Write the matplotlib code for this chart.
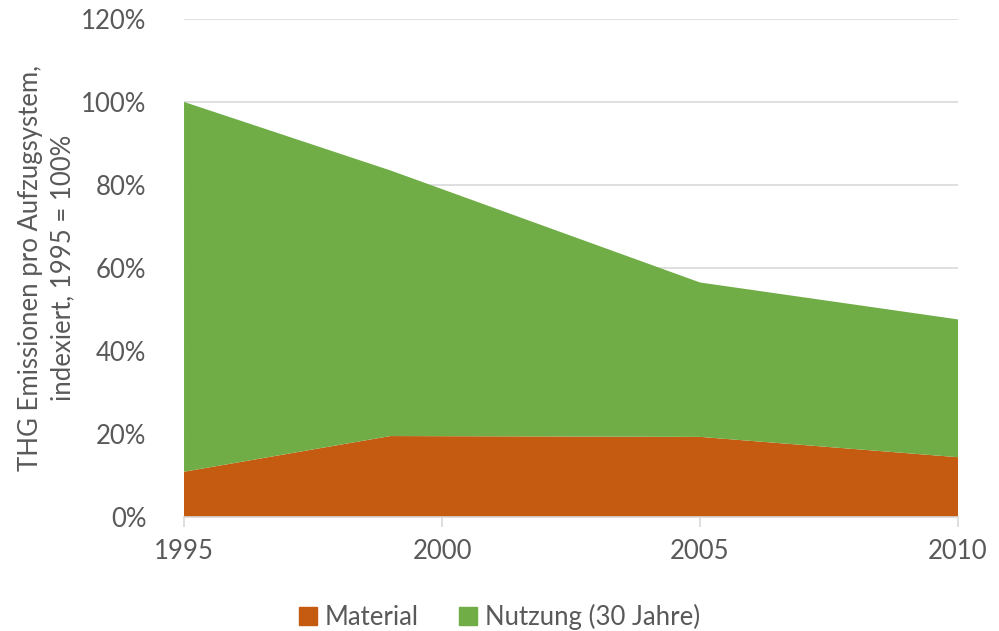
import matplotlib
matplotlib.use('agg')
import matplotlib.pyplot as plt
from matplotlib.patches import Patch
from matplotlib.ticker import FuncFormatter

# data
years = [1995, 1999, 2005, 2010]
material = [10.9, 19.5, 19.3, 14.4]
nutzung = [89.1, 64.0, 37.2, 33.2]
xticks = [1995, 2000, 2005, 2010]
yticks = [0, 20, 40, 60, 80, 100, 120]

c_mat = '#C55A11'
c_nutz = '#70AD47'
c_text = '#595959'
c_grid = '#D9D9D9'

plt.rcParams['font.family'] = ['Lato', 'DejaVu Sans']
fs = 18.5

fig = plt.figure(figsize=(9.99, 6.31), dpi=100)
ax = fig.add_axes([0.1842, 0.1807, 0.959 - 0.1842, 0.970 - 0.1807])

ax.stackplot(years, material, nutzung, colors=[c_mat, c_nutz], linewidth=0)

ax.set_xlim(1995, 2010)
ax.set_ylim(0, 120)
ax.set_xticks(xticks)
ax.set_yticks(yticks)
ax.yaxis.set_major_formatter(FuncFormatter(lambda v, p: '%d%%' % v))
ax.grid(axis='y', color=c_grid, linewidth=1.2)
ax.set_axisbelow(True)

for s in ['top', 'right', 'left']:
    ax.spines[s].set_visible(False)
ax.spines['bottom'].set_color(c_grid)
ax.spines['bottom'].set_linewidth(1.2)
ax.tick_params(axis='x', colors=c_text, labelsize=fs, length=7,
               color=c_grid, width=1.2, pad=9)
ax.tick_params(axis='y', colors=c_text, labelsize=fs, length=0, pad=27)

ax.set_ylabel('THG Emissionen pro Aufzugsystem,\nindexiert, 1995 = 100%',
              fontsize=fs, color=c_text, labelpad=4, linespacing=1.4)

handles = [Patch(color=c_mat, label='Material'),
           Patch(color=c_nutz, label='Nutzung (30 Jahre)')]
leg = fig.legend(handles=handles, loc='center', bbox_to_anchor=(0.5, 0.022),
                 ncol=2, frameon=False, fontsize=fs, handlelength=0.7,
                 handleheight=0.7, handletextpad=0.3, columnspacing=1.6)
for t in leg.get_texts():
    t.set_color(c_text)

plt.savefig('out.png', dpi=100)
plt.close()
